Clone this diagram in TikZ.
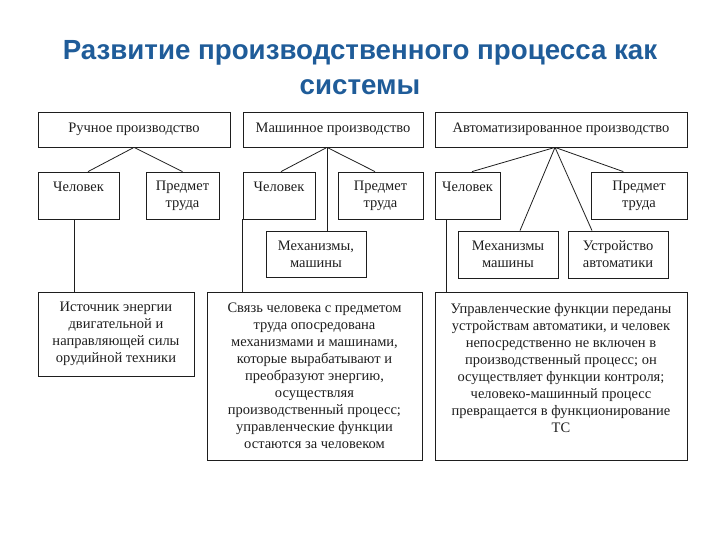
\documentclass[tikz,border=0pt]{standalone}
\usepackage{fontspec}
\setmainfont{Liberation Serif}
\newfontfamily\titlefont{Liberation Sans}
\definecolor{titleblue}{RGB}{31,92,153}
\definecolor{ink}{RGB}{30,30,30}
\begin{document}
\begin{tikzpicture}[x=1pt,y=-1pt,
  box/.style={draw=ink, line width=0.8pt, inner sep=0pt, align=center, text=ink,
    font=\fontsize{14.5}{17}\selectfont},
  conn/.style={draw=ink, line width=0.8pt}]
\useasboundingbox (0,0) rectangle (720,540);
\node[align=center, text=titleblue, font=\titlefont\bfseries\fontsize{27.7}{35}\selectfont] (title) at (360,67.5)
  {Развитие производственного процесса как\\системы};
% top row
\node[box, minimum width=192, minimum height=35] (top1) at (134,129.5) {Ручное производство};
\node[box, minimum width=180, minimum height=35] (top2) at (333,129.5) {Машинное производство};
\node[box, minimum width=252, minimum height=35] (top3) at (561,129.5) {Автоматизированное производство};
% second row
\node[box, minimum width=81, minimum height=47] (chel1) at (78.5,195.5) {Человек\\\mbox{}};
\node[box, minimum width=73, minimum height=47] (pred1) at (182.5,195.5) {Предмет\\труда};
\node[box, minimum width=72, minimum height=47] (chel2) at (279,195.5) {Человек\\\mbox{}};
\node[box, minimum width=85, minimum height=47] (pred2) at (380.5,195.5) {Предмет\\труда};
\node[box, minimum width=65, minimum height=47] (chel3) at (467.5,195.5) {Человек\\\mbox{}};
\node[box, minimum width=96, minimum height=47] (pred3) at (639,195.5) {Предмет\\труда};
% third row
\node[box, minimum width=100, minimum height=46] (mech2) at (316,254) {Механизмы,\\машины};
\node[box, minimum width=100, minimum height=47] (mech3) at (508,254.5) {Механизмы\\машины};
\node[box, minimum width=100, minimum height=47] (ustr) at (618,254.5) {Устройство\\автоматики};
% bottom row
\node[box, minimum width=156, minimum height=84] (ist) at (116,334)
  {Источник энергии\\двигательной и\\направляющей силы\\орудийной техники};
\node[box, minimum width=215, minimum height=168] (svyaz) at (314.5,376)
  {Связь человека с предметом\\труда опосредована\\механизмами и машинами,\\которые вырабатывают и\\преобразуют энергию,\\осуществляя\\производственный процесс;\\управленческие функции\\остаются за человеком};
\node[box, minimum width=252, minimum height=168] (upr) at (561,376)
  {Управленческие функции переданы\\устройствам автоматики, и человек\\непосредственно не включен в\\производственный процесс; он\\осуществляет функции контроля;\\человеко-машинный процесс\\превращается в функционирование\\ТС\\\mbox{}};
% connectors
\draw[conn] (top1.south) -- ([xshift=9.5pt]chel1.north);
\draw[conn] (top1.south) -- (pred1.north);
\draw[conn] ([xshift=-6pt]top2.south) -- ([xshift=2pt]chel2.north);
\draw[conn] ([xshift=-6pt]top2.south) -- ([xshift=-5.5pt]pred2.north);
\draw[conn] ([xshift=-6pt]top2.south) -- ([xshift=-6pt]top2.south |- mech2.north);
\draw[conn] ([xshift=-6pt]top3.south) -- ([xshift=4.5pt]chel3.north);
\draw[conn] ([xshift=-6pt]top3.south) -- ([xshift=-15.7pt]pred3.north);
\draw[conn] ([xshift=-6pt]top3.south) -- ([xshift=12pt]mech3.north);
\draw[conn] ([xshift=-6pt]top3.south) -- ([xshift=-26pt]ustr.north);
\draw[conn] ([xshift=-4pt]chel1.south) -- ([xshift=-4pt]chel1.south |- ist.north);
\draw[conn] (chel2.south west) -- (chel2.south west |- svyaz.north);
\draw[conn] ([xshift=-21pt]chel3.south) -- ([xshift=-21pt]chel3.south |- upr.north);
\end{tikzpicture}
\end{document}
